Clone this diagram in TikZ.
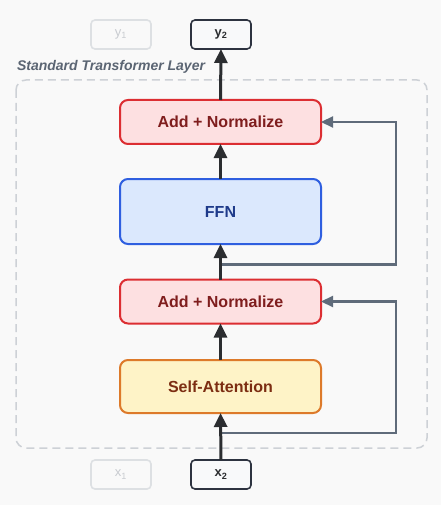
\documentclass[tikz,border=0pt]{standalone}
\usepackage{fontspec}
\setmainfont{Liberation Sans}
\usetikzlibrary{arrows.meta,positioning}
\definecolor{bgc}{HTML}{F9F9F9}
\definecolor{framec}{HTML}{CDD1D6}
\definecolor{labelc}{HTML}{5B6573}
\definecolor{mainc}{HTML}{2B2D30}
\definecolor{resc}{HTML}{5F6B7A}
\definecolor{addfill}{HTML}{FDE0E1}
\definecolor{adddraw}{HTML}{DC2E32}
\definecolor{addtext}{HTML}{7F1D1D}
\definecolor{ffnfill}{HTML}{DBE8FD}
\definecolor{ffndraw}{HTML}{2F5FE0}
\definecolor{ffntext}{HTML}{1E3A8A}
\definecolor{safill}{HTML}{FEF3C7}
\definecolor{sadraw}{HTML}{DD7A2A}
\definecolor{satext}{HTML}{7C2D12}
\definecolor{iodraw}{HTML}{2D3340}
\definecolor{iofill}{HTML}{F8F9FA}
\definecolor{fadedraw}{HTML}{DDE0E3}
\definecolor{fadetext}{HTML}{C8CBD0}
\begin{document}
\begin{tikzpicture}[x=1pt, y=-1pt,
  inner sep=0pt, outer sep=0pt,%
  block/.style={rectangle, rounded corners=8pt, line width=2pt,
    minimum width=201pt, font=\fontsize{16}{18}\selectfont\bfseries},
  addnorm/.style={block, draw=adddraw, fill=addfill, text=addtext, minimum height=44pt},
  io/.style={rectangle, rounded corners=4pt, line width=1.6pt,
    minimum width=60pt, minimum height=29pt, font=\fontsize{13}{15}\selectfont},
  main arrow/.style={draw=mainc, line width=3pt, -{Triangle[length=14pt,width=13pt]}},
  res arrow/.style={draw=resc, line width=2.2pt, -{Triangle[length=12pt,width=11pt]}}]

\useasboundingbox[fill=bgc] (0,0) rectangle (441,505);

% layer frame
\draw[framec, line width=1.5pt, dash pattern=on 8pt off 5pt, rounded corners=10pt]
  (16,80) rectangle (427,448);
\node[anchor=west, text=labelc, font=\fontsize{14}{16}\selectfont\bfseries\itshape]
  (title) at (17,67) {Standard Transformer Layer};

% blocks
\node[block, draw=sadraw, fill=safill, text=satext, minimum height=53pt]
  (sa) at (220.5,386.5) {Self-Attention};
\node[addnorm] (an1) at (220.5,301.5) {Add + Normalize};
\node[block, draw=ffndraw, fill=ffnfill, text=ffntext, minimum height=65pt]
  (ffn) at (220.5,211.5) {FFN};
\node[addnorm] (an2) at (220.5,122) {Add + Normalize};

% inputs and outputs
\node[io, draw=fadedraw, fill=bgc, text=fadetext] (x1) at (121,474.5) {x\textsubscript{1}};
\node[io, draw=iodraw, fill=iofill, text=mainc, font=\fontsize{13}{15}\selectfont\bfseries]
  (x2) at (221,474.5) {x\textsubscript{2}};
\node[io, draw=fadedraw, fill=bgc, text=fadetext] (y1) at (121,34.5) {y\textsubscript{1}};
\node[io, draw=iodraw, fill=iofill, text=mainc, font=\fontsize{13}{15}\selectfont\bfseries]
  (y2) at (221,34.5) {y\textsubscript{2}};

% residual connections
\coordinate (rx) at (396,0);
\coordinate (r1) at (221,433);
\coordinate (r2) at (221,264.5);
\draw[res arrow] (r1) -- (r1 -| rx) |- (an1.east);
\draw[res arrow] (r2) -- (r2 -| rx) |- (an2.east);

% main path
\draw[main arrow] (x2.north) -- (sa.south);
\draw[main arrow] (sa.north) -- (an1.south);
\draw[main arrow] (an1.north) -- (ffn.south);
\draw[main arrow] (ffn.north) -- (an2.south);
\draw[main arrow] (an2.north) -- (y2.south);

\end{tikzpicture}
\end{document}
